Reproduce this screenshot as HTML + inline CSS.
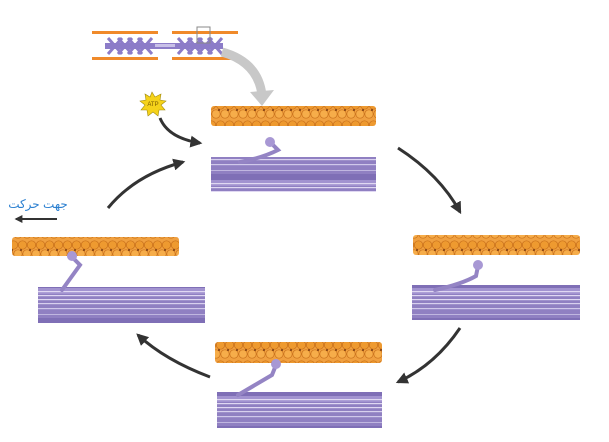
<!DOCTYPE html>
<html><head><meta charset="utf-8"><style>
html,body{margin:0;padding:0;background:#fff;}
svg{display:block;}
</style></head><body>
<svg width="609" height="442" viewBox="0 0 609 442" xmlns="http://www.w3.org/2000/svg">
<defs>
<pattern id="act" width="9" height="20" patternUnits="userSpaceOnUse">
  <rect width="9" height="20" fill="#f0a040"/>
  <circle cx="4.5" cy="5" r="4.2" fill="#ee9a30" stroke="#c9701a" stroke-width="0.7"/>
  <circle cx="0" cy="14" r="4.2" fill="#f6ad4a" stroke="#c9701a" stroke-width="0.7"/>
  <circle cx="9" cy="14" r="4.2" fill="#f6ad4a" stroke="#c9701a" stroke-width="0.7"/>
  <circle cx="3" cy="10" r="1" fill="#7a3a10"/>
</pattern>
<pattern id="myo" width="10" height="36" patternUnits="userSpaceOnUse">
  <rect width="10" height="36" fill="#9080c2"/>
  <rect y="0" width="10" height="6" fill="#a293d0"/>
  <rect y="3" width="10" height="1.2" fill="#e0d8f2"/>
  <rect y="7" width="10" height="1.2" fill="#e0d8f2"/>
  <rect y="11" width="10" height="1.2" fill="#e0d8f2"/>
  <rect y="15" width="10" height="1.2" fill="#d8d0ee"/>
  <rect y="20" width="10" height="1.2" fill="#d0c8ea"/>
  <rect y="26" width="10" height="1" fill="#c0b6e0"/>
  <rect y="30" width="10" height="6" fill="#7f6fb6"/>
</pattern>
<marker id="ah" viewBox="0 0 10 10" refX="8" refY="5" markerWidth="4" markerHeight="4" orient="auto">
  <path d="M0,0 L10,5 L0,10 z" fill="#333"/>
</marker>
</defs>

<!-- mini sarcomere -->
<g>
  <rect x="92" y="31" width="66" height="3" fill="#f08a2a"/>
  <rect x="172" y="31" width="66" height="3" fill="#f08a2a"/>
  <rect x="92" y="57" width="66" height="3" fill="#f08a2a"/>
  <rect x="172" y="57" width="66" height="3" fill="#f08a2a"/>
  <g stroke="#8c7cc8" stroke-width="3" fill="none">
    <path d="M108,38 L122,54 M118,38 L132,54 M128,38 L142,54 M138,38 L152,54 M108,54 L122,38 M118,54 L132,38 M128,54 L142,38 M138,54 L152,38"/>
    <path d="M178,38 L192,54 M188,38 L202,54 M198,38 L212,54 M208,38 L222,54 M178,54 L192,38 M188,54 L202,38 M198,54 L212,38 M208,54 L222,38"/>
  </g>
  <rect x="105" y="43" width="118" height="6" fill="#8c7cc8"/>
  <rect x="155" y="44" width="20" height="3" fill="#c8c0e8"/>
  <rect x="197" y="27" width="13" height="16" fill="none" stroke="#888" stroke-width="1"/>
</g>
<path d="M222,52 Q258,62 262,95" fill="none" stroke="#c8c8c8" stroke-width="9"/>
<path d="M250,92 L262,106 L274,90 z" fill="#c8c8c8"/>

<!-- ATP -->
<polygon points="152,92 155,97 161,94 160,100 166,101 161,105 165,110 159,110 158,116 153,112 148,116 147,110 141,110 145,105 140,101 146,100 145,94 150,97" fill="#f5d21a" stroke="#a08a10" stroke-width="0.6"/>
<text x="153" y="106" font-family="Liberation Sans, sans-serif" font-size="6" fill="#7a5a00" text-anchor="middle">ATP</text>
<path d="M160,118 Q168,138 200,143" fill="none" stroke="#333" stroke-width="3" marker-end="url(#ah)"/>

<!-- cycle arrows -->
<path d="M398,148 Q440,175 460,212" fill="none" stroke="#333" stroke-width="3" marker-end="url(#ah)"/>
<path d="M460,328 Q435,365 398,382" fill="none" stroke="#333" stroke-width="3" marker-end="url(#ah)"/>
<path d="M210,377 Q165,360 138,335" fill="none" stroke="#333" stroke-width="3" marker-end="url(#ah)"/>
<path d="M108,208 Q135,175 183,162" fill="none" stroke="#333" stroke-width="3" marker-end="url(#ah)"/>

<!-- text + direction arrow -->
<text x="38" y="208" font-family="Liberation Sans, 'DejaVu Sans', sans-serif" font-size="12" fill="#2a7fd0" text-anchor="middle" direction="rtl">جهت حرکت</text>
<path d="M57,219 L16,219" stroke="#333" stroke-width="2" marker-end="url(#ah)"/>

<!-- top panel -->
<rect x="211" y="106" width="165" height="20" rx="3" fill="url(#act)"/>
<rect x="211" y="157" width="165" height="35" fill="url(#myo)"/>
<path d="M240,162 Q262,158 278,150 L270,142" fill="none" stroke="#9484c4" stroke-width="4" stroke-linecap="round"/>
<circle cx="270" cy="142" r="5" fill="#a898d4"/>

<!-- left panel -->
<rect x="12" y="237" width="167" height="19" rx="3" fill="url(#act)"/>
<rect x="38" y="287" width="167" height="36" fill="url(#myo)"/>
<path d="M62,290 L80,265 L72,257" fill="none" stroke="#9484c4" stroke-width="4" stroke-linecap="round"/>
<circle cx="72" cy="256" r="5" fill="#a898d4"/>

<!-- right panel -->
<rect x="413" y="235" width="167" height="20" rx="3" fill="url(#act)"/>
<rect x="412" y="285" width="168" height="35" fill="url(#myo)"/>
<path d="M435,290 Q462,284 476,276 L478,266" fill="none" stroke="#9484c4" stroke-width="4" stroke-linecap="round"/>
<circle cx="478" cy="265" r="5" fill="#a898d4"/>

<!-- bottom panel -->
<rect x="215" y="342" width="167" height="21" rx="3" fill="url(#act)"/>
<rect x="217" y="392" width="165" height="36" fill="url(#myo)"/>
<path d="M238,395 L272,375 L276,365" fill="none" stroke="#9484c4" stroke-width="4" stroke-linecap="round"/>
<circle cx="276" cy="364" r="5" fill="#a898d4"/>
</svg>
</body></html>
